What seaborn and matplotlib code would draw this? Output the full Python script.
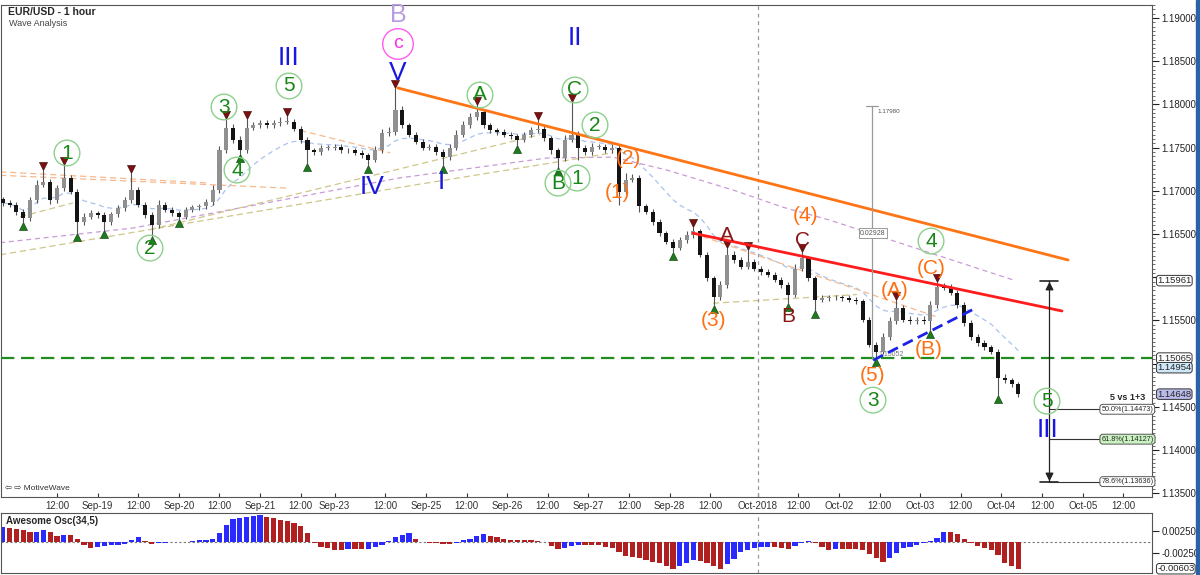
import numpy as np
import pandas as pd
import matplotlib
matplotlib.use("Agg")
import matplotlib.pyplot as plt
import seaborn as sns
from matplotlib.ticker import MultipleLocator, FuncFormatter, FormatStrFormatter
from matplotlib.transforms import blended_transform_factory
from matplotlib.patches import Rectangle

# =============================================================================
# DATA  (2-hour bars, x axis = trading hours since Sep-18 12:00)
# =============================================================================
FIRST_OPEN = 1.1690
closes = [
    1.1686, 1.1684, 1.1676, 1.1668, 1.1689, 1.1707, 1.1710, 1.1689, 1.1703, 1.1715,
    1.1699, 1.1664, 1.1670, 1.1674, 1.1672, 1.1664, 1.1673, 1.1680, 1.1689, 1.1701,
    1.1684, 1.1672, 1.1660, 1.1684, 1.1678, 1.1674, 1.1670, 1.1678, 1.1681, 1.1682,
    1.1687, 1.1701, 1.1747, 1.1773, 1.1759, 1.1747, 1.1773, 1.1776, 1.1778, 1.1776,
    1.1778, 1.1780, 1.1780, 1.1772, 1.1759, 1.1747, 1.1745, 1.1750, 1.1750, 1.1751,
    1.1747, 1.1747, 1.1744, 1.1741, 1.1736, 1.1747, 1.1767, 1.1768, 1.1794, 1.1776,
    1.1765, 1.1757, 1.1750, 1.1751, 1.1745, 1.1739, 1.1750, 1.1765, 1.1776, 1.1785,
    1.1791, 1.1776, 1.1770, 1.1768, 1.1765, 1.1763, 1.1759, 1.1765, 1.1770, 1.1772,
    1.1761, 1.1747, 1.1738, 1.1759, 1.1765, 1.1750, 1.1745, 1.1751, 1.1751, 1.1747,
    1.1750, 1.1699, 1.1713, 1.1715, 1.1682, 1.1676, 1.1664, 1.1651, 1.1641, 1.1634,
    1.1643, 1.1649, 1.1653, 1.1626, 1.1599, 1.1577, 1.1591, 1.1626, 1.1620, 1.1612,
    1.1618, 1.1610, 1.1606, 1.1603, 1.1597, 1.1591, 1.1580, 1.1610, 1.1622, 1.1599,
    1.1574, 1.1576, 1.1577, 1.1577, 1.1576, 1.1574, 1.1572, 1.1551, 1.1522, 1.1514,
    1.1531, 1.1549, 1.1565, 1.1551, 1.1549, 1.1551, 1.1549, 1.1568, 1.1589, 1.1588,
    1.1582, 1.1568, 1.1547, 1.1531, 1.1524, 1.1519, 1.1514, 1.1484, 1.1481, 1.1476,
    1.1465,
]
# wick lengths in pips above the body / below the body
wick_hi = [
    3, 3, 3, 3, 4, 5, 14, 4, 4, 15,
    3, 3, 4, 4, 3, 3, 3, 4, 4, 20,
    3, 3, 3, 5, 3, 3, 3, 3, 3, 3,
    4, 6, 5, 10, 4, 4, 10, 4, 4, 4,
    4, 5, 7, 3, 3, 3, 3, 3, 3, 3,
    3, 3, 3, 3, 3, 5, 5, 6, 25, 4,
    3, 3, 3, 3, 3, 3, 4, 5, 5, 5,
    8, 4, 3, 3, 3, 3, 3, 3, 4, 10,
    3, 3, 3, 6, 38, 4, 3, 4, 3, 3,
    4, 3, 8, 5, 3, 3, 3, 3, 3, 3,
    4, 4, 5, 3, 3, 3, 5, 8, 4, 3,
    14, 3, 3, 3, 3, 3, 3, 5, 7, 3,
    3, 4, 3, 3, 3, 3, 3, 3, 3, 3,
    5, 5, 9, 3, 4, 3, 4, 5, 6, 4,
    4, 3, 3, 3, 3, 3, 3, 3, 4, 3,
    3,
]
wick_lo = [
    3, 3, 4, 4, 3, 3, 3, 4, 3, 3,
    3, 13, 3, 3, 3, 9, 3, 3, 3, 3,
    3, 3, 12, 3, 3, 3, 3, 3, 3, 3,
    3, 3, 3, 3, 4, 4, 3, 3, 3, 3,
    3, 3, 3, 3, 4, 15, 3, 3, 3, 3,
    3, 3, 3, 3, 6, 3, 3, 3, 3, 3,
    3, 3, 3, 3, 3, 9, 3, 3, 3, 3,
    3, 3, 3, 3, 3, 3, 6, 3, 3, 3,
    3, 4, 11, 3, 3, 14, 3, 3, 3, 3,
    3, 15, 3, 3, 6, 3, 3, 3, 3, 5,
    3, 3, 3, 3, 3, 9, 3, 3, 3, 3,
    3, 3, 3, 3, 3, 3, 10, 3, 3, 3,
    12, 3, 3, 3, 3, 3, 3, 3, 3, 7,
    3, 3, 3, 3, 3, 3, 3, 10, 3, 3,
    3, 3, 3, 3, 3, 3, 3, 20, 3, 3,
    3,
]
# Awesome oscillator (x 1e-4)
awesome = [
    35, 32, 30, 27, 22, 23, 28, 24, 14, 17,
    17, 8, -6, -14, -10, -8, -7, -6, -4, 5,
    11, 3, -4, -2, -1, 0, 0, 1, 3, 4,
    5, 8, 20, 38, 52, 54, 56, 60, 61, 57,
    54, 50, 47, 43, 36, 20, -2, -10, -14, -17,
    -17, -16, -16, -16, -15, -12, -6, 3, 12, 17,
    21, 8, 1, -1, -2, -4, -5, -1, 4, 8,
    15, 18, 15, 11, 7, 5, 4, 4, 4, 3,
    1, -8, -16, -14, -8, -6, -6, -6, -7, -10,
    -14, -22, -32, -34, -35, -40, -45, -48, -54, -61,
    -55, -47, -41, -43, -48, -54, -62, -50, -38, -23,
    -17, -14, -12, -10, -12, -14, -16, -9, -2, 2,
    -1, -10, -17, -16, -16, -16, -16, -17, -26, -36,
    -44, -37, -25, -14, -10, -6, -2, 2, 9, 24,
    22, 18, 8, -2, -8, -13, -18, -29, -48, -55,
    -60.3,
]
pivot_hi = [6, 9, 19, 33, 36, 42, 58, 70, 79, 84, 102, 107, 110, 118, 132, 138]
pivot_lo = [3, 11, 15, 22, 26, 35, 45, 54, 65, 76, 82, 99, 105, 116, 120, 129, 137, 147]

tick_hours = [0, 12, 24, 36, 48, 60, 72, 82, 97, 109, 121, 133, 145, 157, 169,
              181, 193, 207, 219, 231, 243, 255, 267, 279, 291, 303, 315]
tick_labels = ["12:00", "Sep-19", "12:00", "Sep-20", "12:00", "Sep-21", "12:00",
               "Sep-23", "12:00", "Sep-25", "12:00", "Sep-26", "12:00", "Sep-27",
               "12:00", "Sep-28", "12:00", "Oct-2018", "12:00", "Oct-02", "12:00",
               "Oct-03", "12:00", "Oct-04", "12:00", "Oct-05", "12:00"]

# indicator / trend lines: (hours, price) knots
purple_t = [-16.8, 22.5, 101.3, 144.8, 164.3, 180.2, 199.7, 214.5, 228.4, 282.4]
purple_p = [1.1640, 1.1657, 1.1715, 1.1738, 1.1739, 1.1724, 1.1701, 1.1681, 1.1666, 1.1597]
tan_lines = [
    ([-16.8, 101.3, 145.6, 164.3], [1.1626, 1.1704, 1.1732, 1.1744]),
    ([27.5, 142.7], [1.1655, 1.1765]),
    ([-10.9, 4.7], [1.1670, 1.1686]),
    ([193.8, 236.3], [1.1570, 1.1580]),
]
peach_lines = [
    ([-16.8, 68.8], [1.1718, 1.1703]),
    ([-16.8, 45.2], [1.1722, 1.1709]),
    ([71.8, 98.4], [1.1770, 1.1744]),
    ([187.9, 260.0], [1.1651, 1.1554]),
]
orange_t, orange_p = [100.7, 298.7], [1.1819, 1.1620]
red_t, red_p = [187.9, 296.9], [1.1651, 1.1561]
blue_t, blue_p = [241.1, 271.2], [1.1504, 1.1564]
support_level = 1.15065
measure_t, measure_top, measure_low = 240.8, 1.17980, 1.15052
proj_t, proj_top = 293.1, 1.15961
fib_levels = [1.14473, 1.14127, 1.13636]
fib_names = ["50.0%", "61.8%", "78.6%"]
price_tags = [(1.15961, "white"), (1.15065, "white"), (1.14954, "#cfe8f7"), (1.14648, "#b9bbea")]
hidden_ticks = [1.160, 1.150]   # covered by the price tags

# =============================================================================
# FIGURE
# =============================================================================
sns.set_style("white")
plt.rcParams["font.family"] = ["Liberation Sans", "DejaVu Sans"]

W, H = 1200, 575
fig = plt.figure(figsize=(12, 5.75), dpi=100)


def box(l, t, r, b):
    return [l / W, 1 - b / H, (r - l) / W, (b - t) / H]


def px(x, y):
    # reference pixel -> data coords of the price panel
    return (x - 57) / 3.385, 1.19 - (y - 18) * 0.005 / 43.2


ax = fig.add_axes(box(1, 5, 1152, 497))
ao_ax = fig.add_axes(box(1, 513, 1152, 573))
XL = ((1 - 57) / 3.385, (1152 - 57) / 3.385)

n = len(closes)
df = pd.DataFrame({"t": -16 + 2 * np.arange(n), "close": closes})
df["open"] = [FIRST_OPEN] + closes[:-1]
df["high"] = df[["open", "close"]].max(axis=1) + np.array(wick_hi) * 1e-4
df["low"] = df[["open", "close"]].min(axis=1) - np.array(wick_lo) * 1e-4
df["ma"] = df["close"].ewm(span=14).mean()
up = df["close"] >= df["open"]

# light indicator lines
sns.lineplot(data=df, x="t", y="ma", ax=ax, color="#a9c3ef", lw=0.9,
             linestyle=(0, (4, 3)), zorder=1)
sns.lineplot(x=purple_t, y=purple_p, ax=ax, color="#c99bd6", lw=0.9,
             linestyle=(0, (4, 3)), zorder=1)
for lt, lp in tan_lines:
    sns.lineplot(x=lt, y=lp, ax=ax, color="#cfc68a", lw=0.9, linestyle=(0, (5, 3)), zorder=1)
for lt, lp in peach_lines:
    sns.lineplot(x=lt, y=lp, ax=ax, color="#f7b98e", lw=0.9, linestyle=(0, (5, 3)), zorder=1)

# candles
ax.vlines(df["t"], df["low"], df["high"], color="#555555", lw=0.8, zorder=2)
body = (df["close"] - df["open"]).abs().clip(lower=0.00004)
ax.bar(df["t"], body, bottom=df[["open", "close"]].min(axis=1), width=1.2,
       color=np.where(up, "#909090", "#141414"), lw=0, zorder=3)

# pivot markers
hi = df.loc[pivot_hi]
lo = df.loc[pivot_lo]
ax.scatter(hi["t"], hi["high"] + 0.00045, marker="v", s=34, color="#7a1010",
           edgecolor="#3a0000", lw=0.4, zorder=4)
ax.scatter(lo["t"], lo["low"] - 0.00045, marker="^", s=34, color="#1e7a1e",
           edgecolor="#0a3a0a", lw=0.4, zorder=4)

# trend lines
sns.lineplot(x=orange_t, y=orange_p, ax=ax, color="#ff7414", lw=2, zorder=5)
sns.lineplot(x=red_t, y=red_p, ax=ax, color="#ff1c1c", lw=2, zorder=5)
sns.lineplot(x=blue_t, y=blue_p, ax=ax, color="#1a22e8", lw=2, linestyle=(0, (4, 2)), zorder=5)
ax.axhline(support_level, color="#1e8c1e", lw=1.6, ls=(0, (6, 3)), zorder=5)
ax.axvline(207, color="#999999", lw=0.9, ls=(0, (3, 3)), zorder=1)
ao_ax.axvline(207, color="#999999", lw=0.9, ls=(0, (3, 3)), zorder=3)

# grey measurement from C top to (5) low
ax.plot([measure_t, measure_t], [measure_top, measure_low], color="#9a9a9a", lw=0.9, zorder=5)
ax.plot([measure_t - 1.8, measure_t + 1.8], [measure_top] * 2, color="#9a9a9a", lw=0.9, zorder=5)
ax.text(*px(877, 111), f"{measure_top:.5f}", fontsize=4.5, color="#555555", va="center")
ax.text(*px(873, 233), f"{measure_top - measure_low:.5f}", fontsize=5, color="#555555",
        ha="center", va="center", zorder=6,
        bbox=dict(boxstyle="square,pad=0.2", fc="white", ec="#9a9a9a", lw=0.7))
ax.text(*px(878, 354), f"{measure_low:.5f}", fontsize=5, color="#777777", va="center")

# black projection arrow and fib levels
fib_end = px(1100, 0)[0]
ax.plot([proj_t, proj_t], [proj_top, fib_levels[-1]], color="#222222", lw=0.9, zorder=5)
for lvl in (proj_top, fib_levels[-1]):
    ax.plot([proj_t - 2.7, proj_t + 2.7], [lvl, lvl], color="#222222", lw=1.2, zorder=5)
ax.scatter([proj_t], [proj_top - 0.0006], marker="^", s=22, color="#222222", zorder=5)
ax.scatter([proj_t], [fib_levels[-1] + 0.0006], marker="v", s=22, color="#222222", zorder=5)
ax.hlines(fib_levels, proj_t, fib_end, color="#333333", lw=0.8, zorder=5)
for lvl, name in zip(fib_levels, fib_names):
    fc = "#c9f2c0" if name == "61.8%" else "white"
    ax.text(fib_end + 0.4, lvl, f"{name}({lvl:.5f})", fontsize=5.2, va="center", ha="left",
            zorder=7, clip_on=False,
            bbox=dict(boxstyle="round,pad=0.2,rounding_size=0.4", fc=fc, ec="#555555", lw=0.7))
ax.text(*px(1128, 397), "5 vs 1+3", fontsize=6.5, fontweight="bold", ha="center", va="center")

# wave labels
green = [("1", 67, 153), ("2", 150, 248), ("3", 224, 107), ("4", 237, 170), ("5", 289, 86),
         ("A", 480, 95), ("C", 575, 90), ("2", 595, 125), ("B", 558, 183), ("1", 577, 178),
         ("4", 931, 241), ("3", 873, 400), ("5", 1047, 401)]
for s, x, y in green:
    ax.text(*px(x, y), s, fontsize=15, color="#178617", ha="center", va="center", zorder=8,
            bbox=dict(boxstyle="circle,pad=0.16", fc="none", ec="#8cd08c", lw=1))
blue = [("III", 289, 58), ("V", 398, 73), ("IV", 372, 187), ("I", 441, 182),
        ("II", 575, 38), ("III", 1048, 430)]
for s, x, y in blue:
    ax.text(*px(x, y), s, fontsize=19, color="#1717e0", ha="center", va="center", zorder=8)
ax.text(*px(398, 15), "B", fontsize=18, color="#b89be0", ha="center", va="center", zorder=8)
ax.text(*px(398, 44), "c", fontsize=14, color="#ff2fe8", ha="center", va="center", zorder=8,
        bbox=dict(boxstyle="circle,pad=0.35", fc="none", ec="#ff5cf0", lw=1))
orange = [("(1)", 618, 192), ("(2)", 628, 158), ("(3)", 713, 320), ("(4)", 806, 215),
          ("(5)", 873, 375), ("(A)", 895, 290), ("(B)", 929, 349), ("(C)", 931, 268)]
for s, x, y in orange:
    ax.text(*px(x, y), s, fontsize=15, color="#ff6f10", ha="center", va="center", zorder=8)
maroon = [("A", 727, 235), ("C", 803, 240), ("B", 788, 316)]
for s, x, y in maroon:
    ax.text(*px(x, y), s, fontsize=15, color="#8b1515", ha="center", va="center", zorder=8)

# axes styling
ax.set_xlim(*XL)
ax.set_ylim(1.13458, 1.19150)
ax.yaxis.tick_right()
ax.set_yticks(np.arange(1.135, 1.1901, 0.005))
ax.yaxis.set_major_formatter(FuncFormatter(
    lambda v, pos: "" if any(abs(v - h) < 1e-6 for h in hidden_ticks) else f"{v:.5f}"))
ax.yaxis.set_minor_locator(MultipleLocator(0.0005))
ax.tick_params(axis="y", which="major", length=5, direction="out", labelsize=7, pad=2,
               colors="#222222", right=True)
ax.tick_params(axis="y", which="minor", length=2.5, direction="out", right=True, color="#555555")
ax.set_xticks(tick_hours)
ax.set_xticklabels(tick_labels)
ax.tick_params(axis="x", length=3, direction="in", labelsize=7, pad=3, colors="#333333",
               bottom=True)
ax.set_xlabel("")
ax.set_ylabel("")
for sp in ax.spines.values():
    sp.set_color("#555555")
    sp.set_linewidth(0.8)

tr = blended_transform_factory(ax.transAxes, ax.transData)
for val, fc in price_tags:
    ax.text(1.0045, val, f"{val:.5f}", transform=tr, fontsize=6.8, va="center", ha="left",
            zorder=9, clip_on=False,
            bbox=dict(boxstyle="round,pad=0.08,rounding_size=0.3", fc=fc, ec="#333333", lw=0.7))

# awesome oscillator
ao = np.array(awesome) * 1e-4
ao_col = ["#2a2aff" if i == 0 or ao[i] > ao[i - 1] else "#b02020" for i in range(n)]
ao_ax.bar(df["t"], ao, width=1.55, color=ao_col, lw=0, zorder=2)
ao_ax.axhline(0, color="#777777", lw=0.8, ls=(0, (2, 2)), zorder=1)
ao_ax.set_xlim(*XL)
ao_ax.set_ylim(-0.0070, 0.0066)
ao_ax.set_xticks([])
ao_ax.yaxis.tick_right()
ao_ax.set_yticks([0.0025, -0.0025])
ao_ax.yaxis.set_major_formatter(FormatStrFormatter("%.5f"))
ao_ax.tick_params(axis="y", length=5, direction="out", labelsize=7, pad=2, colors="#222222", right=True)
for sp in ao_ax.spines.values():
    sp.set_color("#555555")
    sp.set_linewidth(0.8)
tr2 = blended_transform_factory(ao_ax.transAxes, ao_ax.transData)
ao_ax.text(1.0045, ao[-1], f"{ao[-1]:.5f}", transform=tr2, fontsize=6.8, va="center",
           ha="left", zorder=9, clip_on=False,
           bbox=dict(boxstyle="round,pad=0.08,rounding_size=0.3", fc="white", ec="#333333", lw=0.7))
ao_ax.text(0.004, 0.86, "Awesome Osc(34,5)", transform=ao_ax.transAxes, fontsize=7,
           fontweight="bold", va="center")

# headers
fig.text(8 / W, 1 - 12 / H, "EUR/USD - 1 hour", fontsize=7.5, fontweight="bold", va="center")
fig.text(9 / W, 1 - 24 / H, "Wave Analysis", fontsize=6.5, color="#444444", va="center")
fig.text(5 / W, 1 - 489 / H, "⇦ ⇨ MotiveWave", fontsize=6, color="#333333", va="center")
fig.patches.append(Rectangle((1196 / W, 0), 4 / W, 1, transform=fig.transFigure,
                             color="#2a62a8", zorder=0))

fig.savefig("out.png", dpi=100)
